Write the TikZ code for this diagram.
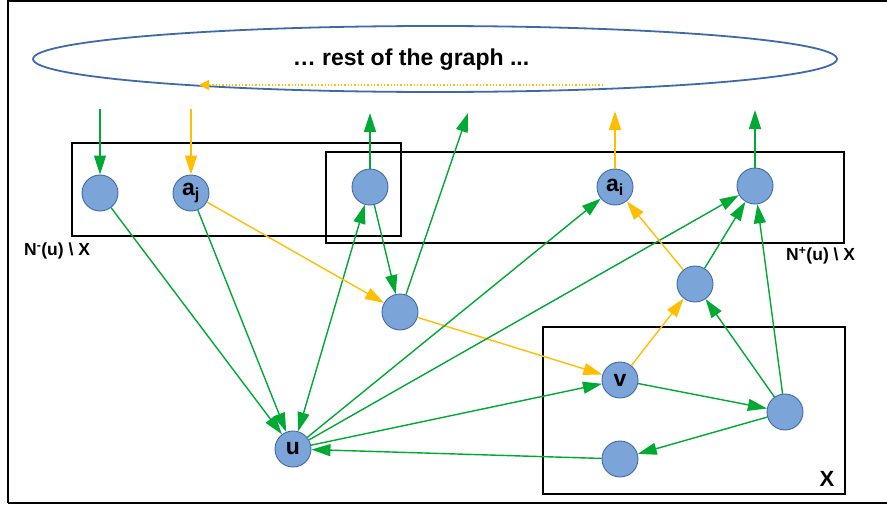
\documentclass[tikz,border=0pt]{standalone}
\usepackage{fontspec}
\setmainfont{Liberation Sans}
\usetikzlibrary{arrows.meta}
\definecolor{vfill}{HTML}{7BA4D9}
\definecolor{vline}{HTML}{3F6AA8}
\definecolor{egreen}{HTML}{00A933}
\definecolor{eorange}{HTML}{FFBF00}
\tikzset{
  vtx/.style={circle,draw=vline,line width=0.9pt,fill=vfill,minimum size=36pt,inner sep=0pt,
    font=\bfseries\fontsize{23}{23}\selectfont},
  tipbig/.tip={Triangle[length=19pt,width=12pt]},
  garrow/.style={draw=egreen,line width=1.4pt,-tipbig,fill=egreen},
  oarrow/.style={draw=eorange,line width=1.4pt,-tipbig,fill=eorange},
  gboth/.style={draw=egreen,line width=1.4pt,tipbig-tipbig,fill=egreen},
  setbox/.style={draw=black,line width=1.5pt},
  setlabel/.style={font=\bfseries\fontsize{17.5}{17.5}\selectfont,inner sep=0pt},
}
\begin{document}
\begin{tikzpicture}[x=1pt,y=-1pt]
\useasboundingbox (0,0) rectangle (887,506);
\fill[white] (0,0) rectangle (887,506);
% outer frame
\draw[line width=1.8pt] (8,503) -- (8,1) -- (890,1);
\draw[line width=1.8pt] (8,503) -- (890,503);

% rest of the graph
\draw[vline,line width=1.8pt] (435,59) ellipse [x radius=402, y radius=33];
\node[font=\bfseries\fontsize{23}{23}\selectfont] (rest) at (411,60) {… rest of the graph ...};
\coordinate (dotA) at (603,85);
\coordinate (dotB) at (199,85);
\draw[eorange,line width=1.3pt,dotted,-{Triangle[length=10pt,width=10pt]}] (dotA) -- (dotB);

% set boxes
\draw[setbox] (72,143) rectangle (401,236);
\draw[setbox] (326,152) rectangle (844,243);
\draw[setbox] (543,327) rectangle (845,494);
\node[setlabel,anchor=west] (lminus) at (24,251) {N\textsuperscript{-}(u) \textbackslash{} X};
\node[setlabel,anchor=west] (lplus) at (786,256) {N\textsuperscript{+}(u) \textbackslash{} X};
\node[font=\bfseries\fontsize{22}{22}\selectfont,inner sep=0pt] (lx) at (827,479) {X};

% vertices
\node[vtx] (n1) at (100,193) {};
\node[vtx] (aj) at (191,193) {a\textsubscript{j}};
\node[vtx] (n3) at (370,187) {};
\node[vtx] (m)  at (400,312) {};
\node[vtx] (ai) at (615,187) {a\textsubscript{i}};
\node[vtx] (n5) at (755,186) {};
\node[vtx] (w)  at (695,284) {};
\node[vtx] (v)  at (620,380) {v};
\node[vtx] (r)  at (785,412) {};
\node[vtx] (b)  at (620,459) {};
\node[vtx] (u)  at (293,449) {u};

% links with the rest of the graph
\coordinate (in1) at (100,109);
\coordinate (in2) at (191,109);
\coordinate (out3) at (370,113);
\coordinate (outm) at (468,113);
\coordinate (outi) at (615,111);
\coordinate (out5) at (755,110);
\draw[garrow] (in1) -- (n1);
\draw[oarrow] (in2) -- (aj);
\draw[garrow] (n3) -- (out3);
\draw[garrow] (m) -- (outm);
\draw[oarrow] (ai) -- (outi);
\draw[garrow] (n5) -- (out5);

% edges
\draw[garrow] (n1) -- (u);
\draw[garrow] (aj) -- (u);
\draw[gboth] (u) -- (n3);
\draw[garrow] (n3) -- (m);
\draw[oarrow] (aj) -- (m);
\draw[oarrow] (m) -- (v);
\draw[garrow] (u) -- (ai);
\draw[garrow] (u) -- (n5);
\draw[garrow] (u) -- (v);
\draw[garrow] (b) -- (u);
\draw[oarrow] (v) -- (w);
\draw[oarrow] (w) -- (ai);
\draw[garrow] (w) -- (n5);
\draw[garrow] (v) -- (r);
\draw[garrow] (r) -- (b);
\draw[garrow] (r) -- (w);
\draw[garrow] (r) -- (n5);
\end{tikzpicture}
\end{document}
